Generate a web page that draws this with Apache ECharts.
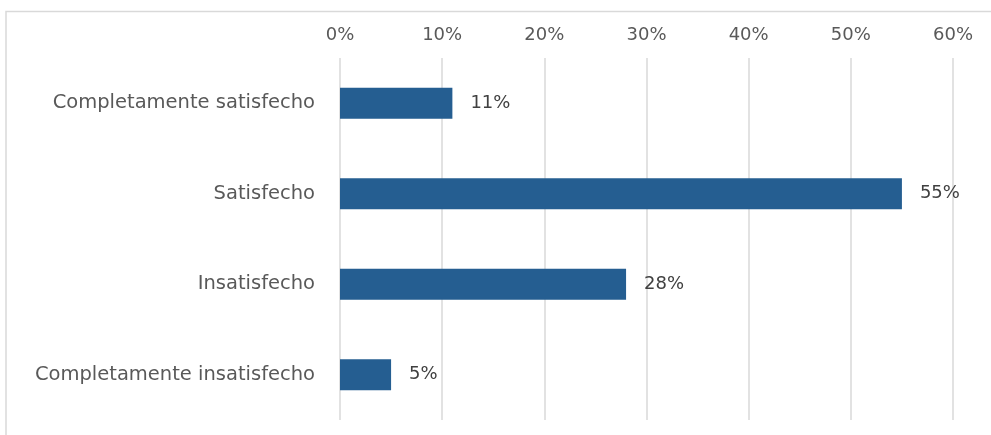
<!DOCTYPE html>
<html>
<head>
<meta charset="utf-8">
<style>
  html, body { margin: 0; padding: 0; background: #ffffff; }
  #chart { width: 991px; height: 435px; }
</style>
<script src="https://cdn.jsdelivr.net/npm/echarts@6/dist/echarts.min.js"></script>
</head>
<body>
<div id="chart"></div>
<script>
// Satisfaction levels and their share of responses (percent)
const categories = [
  'Completamente satisfecho',
  'Satisfecho',
  'Insatisfecho',
  'Completamente insatisfecho'
];
const shares = [11, 55, 28, 5];
const axisMax = 60;
const axisStep = 10;

const chart = echarts.init(document.getElementById('chart'));

const textFont = 'DejaVu Sans, Verdana, sans-serif';

chart.setOption({
  animation: false,
  backgroundColor: '#ffffff',
  graphic: [
    // thin frame along the top and left edges of the chart area
    {
      type: 'polyline',
      shape: { points: [[6, 436], [6, 11.5], [992, 11.5]] },
      style: { stroke: '#d9d9d9', lineWidth: 1.5, fill: null },
      silent: true
    }
  ],
  grid: { left: 340, right: 38, top: 58, bottom: 15, containLabel: false },
  xAxis: {
    type: 'value',
    position: 'top',
    min: 0,
    max: axisMax,
    interval: axisStep,
    axisLine: { show: false },
    axisTick: { show: false },
    axisLabel: {
      formatter: '{value}%',
      color: '#595959',
      fontFamily: textFont,
      fontSize: 18,
      margin: 14
    },
    splitLine: { show: true, lineStyle: { color: '#d9d9d9', width: 1.5 } }
  },
  yAxis: {
    type: 'category',
    inverse: true,
    data: categories,
    axisLine: { show: false },
    axisTick: { show: false },
    axisLabel: {
      color: '#595959',
      fontFamily: textFont,
      fontSize: 19.5,
      margin: 25
    }
  },
  series: [{
    type: 'bar',
    data: shares,
    barWidth: 31,
    itemStyle: { color: '#255e91' },
    label: {
      show: true,
      position: 'right',
      distance: 18,
      formatter: '{c}%',
      color: '#404040',
      fontFamily: textFont,
      fontSize: 18
    }
  }]
});
</script>
</body>
</html>
